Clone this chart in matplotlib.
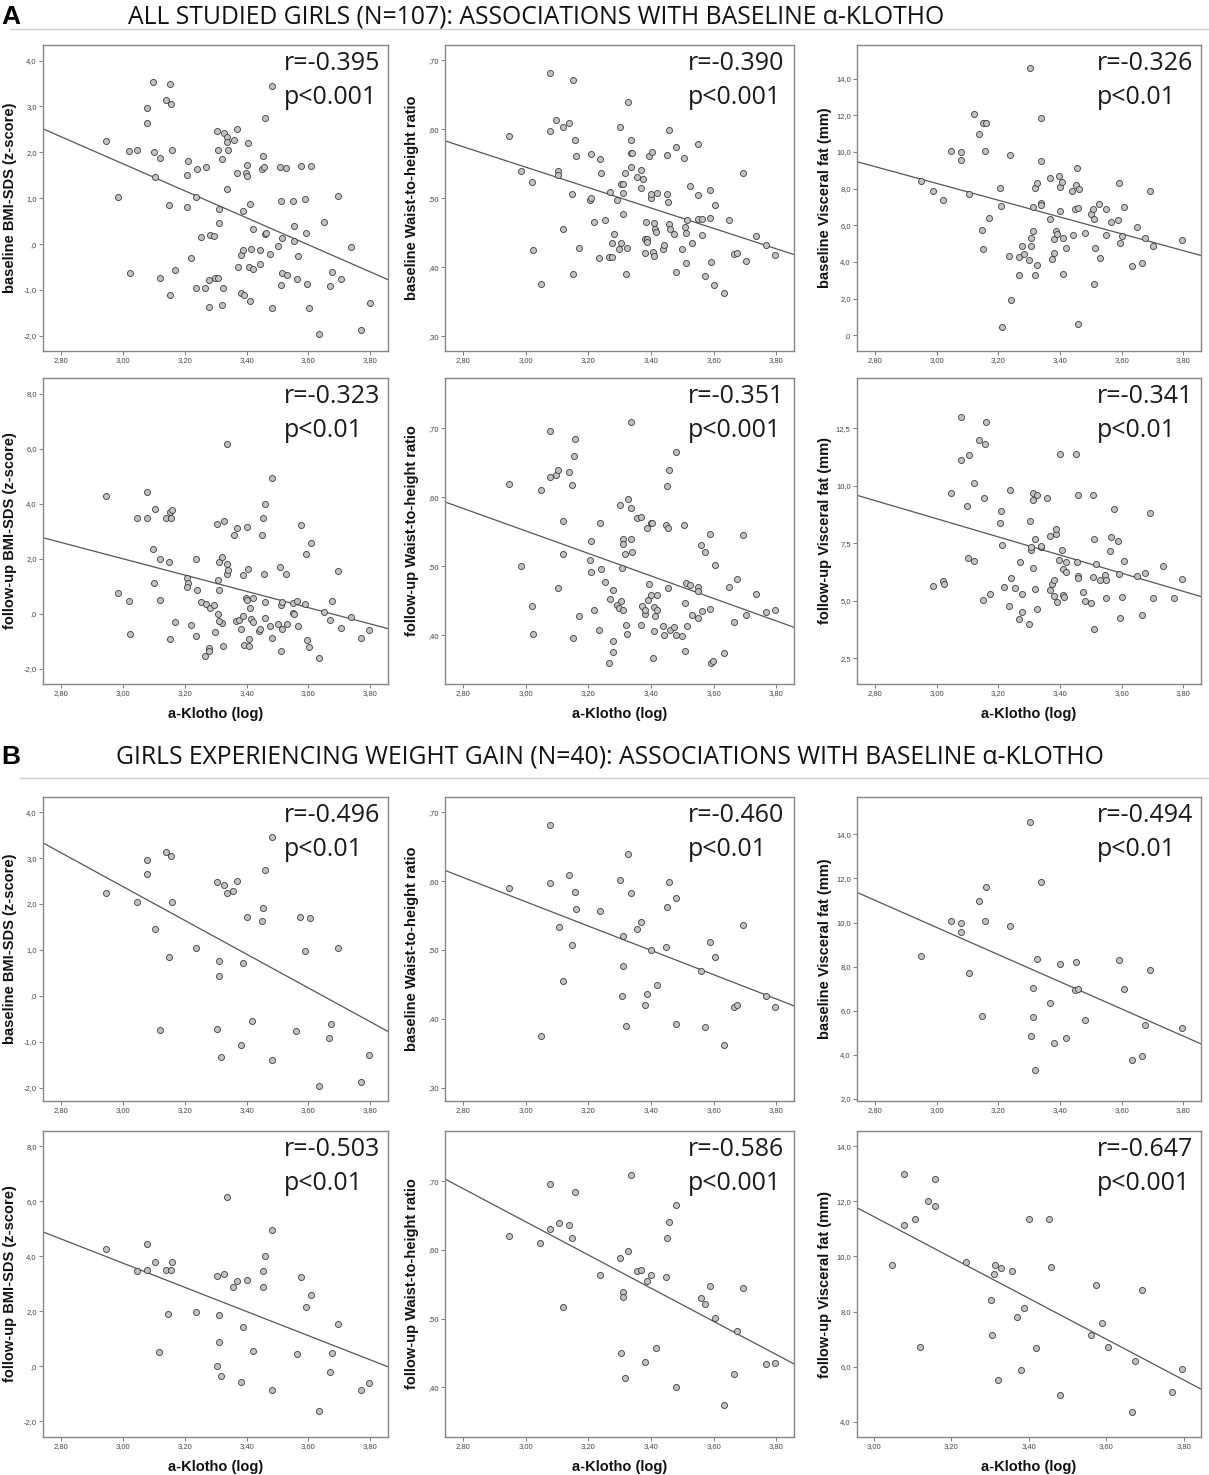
import numpy as np
import matplotlib
matplotlib.use("Agg")
import matplotlib.pyplot as plt
from matplotlib.lines import Line2D

# ---- data: (log a-Klotho, outcome) pairs per panel ----
a_bmi_base = [(2.946, 2.25), (2.986, 1.03), (3.021, 2.04), (3.047, 2.06), (3.023, -0.64), (3.078, 2.97),
              (3.078, 2.65), (3.098, 3.53), (3.101, 2.01), (3.105, 1.46), (3.120, 1.88), (3.119, -0.73),
              (3.139, 3.14), (3.153, 3.50), (3.157, 3.05), (3.159, 2.05), (3.148, 0.85), (3.152, -1.11),
              (3.170, -0.56), (3.206, 1.50), (3.210, 1.82), (3.209, 0.81), (3.220, -0.31), (3.235, -0.96),
              (3.238, 1.03), (3.239, 1.64), (3.253, 0.15), (3.268, 1.68), (3.267, -0.96), (3.278, -0.78),
              (3.278, -1.37), (3.283, 0.20), (3.294, 0.17), (3.298, -0.73), (3.307, -0.73), (3.305, 2.47),
              (3.307, 2.05), (3.311, 0.76), (3.311, 0.45), (3.319, 1.85), (3.320, -1.33), (3.323, -0.96),
              (3.327, 2.43), (3.337, 2.33), (3.338, 2.23), (3.338, 1.21), (3.340, 2.05), (3.359, 2.28),
              (3.370, 2.50), (3.369, 1.54), (3.373, -0.49), (3.382, -0.24), (3.387, -0.13), (3.383, -1.06),
              (3.391, -1.11), (3.389, 0.73), (3.398, 1.56), (3.400, 1.48), (3.402, 1.72), (3.405, 2.20),
              (3.407, -0.49), (3.412, 0.87), (3.414, -0.10), (3.411, -1.24), (3.420, -0.55), (3.421, 0.33),
              (3.442, -0.13), (3.444, -0.44), (3.453, 1.93), (3.450, 1.63), (3.456, 1.67), (3.459, 0.23),
              (3.462, 0.25), (3.460, 2.74), (3.476, -0.22), (3.482, -1.39), (3.483, 3.45), (3.502, -0.04),
              (3.509, 1.68), (3.510, 0.95), (3.513, 0.14), (3.512, -0.89), (3.516, -0.63), (3.527, 1.65),
              (3.532, -0.68), (3.550, 0.94), (3.552, 0.39), (3.554, 0.07), (3.563, -0.77), (3.566, -0.25),
              (3.577, 1.71), (3.590, 0.98), (3.591, 0.24), (3.595, -0.88), (3.603, -1.40), (3.608, 1.70),
              (3.635, -1.97), (3.649, 0.49), (3.668, -0.91), (3.676, -0.61), (3.696, 1.05), (3.705, -0.76),
              (3.736, -0.06), (3.771, -1.88), (3.798, -1.29)]

a_whtr_base = [(2.947, 0.590), (2.986, 0.540), (3.021, 0.524), (3.023, 0.425), (3.048, 0.376), (3.079, 0.682),
               (3.079, 0.598), (3.097, 0.613), (3.103, 0.539), (3.104, 0.534), (3.119, 0.455), (3.120, 0.603),
               (3.139, 0.609), (3.148, 0.507), (3.152, 0.672), (3.151, 0.390), (3.157, 0.584), (3.160, 0.561),
               (3.170, 0.428), (3.204, 0.498), (3.209, 0.501), (3.210, 0.564), (3.219, 0.466), (3.234, 0.413),
               (3.237, 0.557), (3.239, 0.536), (3.252, 0.469), (3.266, 0.415), (3.268, 0.509), (3.276, 0.415),
               (3.277, 0.435), (3.282, 0.448), (3.293, 0.497), (3.297, 0.427), (3.302, 0.603), (3.305, 0.435),
               (3.305, 0.521), (3.311, 0.521), (3.311, 0.508), (3.312, 0.478), (3.318, 0.536), (3.319, 0.390),
               (3.323, 0.428), (3.327, 0.640), (3.336, 0.584), (3.336, 0.546), (3.337, 0.565), (3.339, 0.565),
               (3.356, 0.531), (3.368, 0.515), (3.369, 0.541), (3.373, 0.528), (3.380, 0.421), (3.382, 0.441),
               (3.385, 0.466), (3.388, 0.441), (3.387, 0.437), (3.394, 0.561), (3.400, 0.501), (3.400, 0.506),
               (3.403, 0.567), (3.406, 0.422), (3.409, 0.417), (3.411, 0.465), (3.413, 0.455), (3.417, 0.451),
               (3.420, 0.508), (3.440, 0.427), (3.443, 0.433), (3.450, 0.563), (3.450, 0.506), (3.453, 0.495),
               (3.457, 0.599), (3.457, 0.463), (3.460, 0.455), (3.473, 0.449), (3.480, 0.394), (3.481, 0.575),
               (3.500, 0.427), (3.506, 0.558), (3.509, 0.458), (3.511, 0.450), (3.511, 0.407), (3.515, 0.469),
               (3.526, 0.518), (3.530, 0.435), (3.549, 0.578), (3.550, 0.505), (3.551, 0.470), (3.562, 0.470),
               (3.564, 0.447), (3.573, 0.388), (3.588, 0.512), (3.589, 0.471), (3.593, 0.408), (3.600, 0.374),
               (3.606, 0.490), (3.632, 0.363), (3.648, 0.469), (3.666, 0.419), (3.676, 0.421), (3.694, 0.536),
               (3.703, 0.410), (3.734, 0.445), (3.768, 0.433), (3.796, 0.418)]

a_vfat_base = [(2.949, 8.44), (2.987, 7.89), (3.022, 7.38), (3.048, 10.07), (3.079, 10.00), (3.079, 9.56),
               (3.106, 7.71), (3.121, 12.09), (3.139, 10.96), (3.148, 5.75), (3.152, 4.69), (3.152, 11.56),
               (3.161, 11.60), (3.158, 10.05), (3.171, 6.40), (3.206, 8.02), (3.209, 7.07), (3.211, 0.44),
               (3.234, 4.31), (3.238, 9.85), (3.240, 1.91), (3.267, 3.31), (3.268, 4.25), (3.277, 4.87),
               (3.284, 4.44), (3.299, 4.11), (3.304, 14.58), (3.306, 4.85), (3.307, 5.33), (3.311, 7.02),
               (3.313, 5.69), (3.318, 8.05), (3.319, 3.27), (3.325, 3.82), (3.327, 8.33), (3.337, 11.84),
               (3.338, 9.53), (3.338, 7.20), (3.337, 7.11), (3.368, 8.56), (3.369, 6.33), (3.373, 4.15),
               (3.382, 4.51), (3.381, 5.27), (3.386, 5.67), (3.391, 5.53), (3.396, 8.69), (3.400, 6.80),
               (3.401, 8.11), (3.405, 8.36), (3.409, 3.35), (3.411, 5.31), (3.419, 4.76), (3.439, 7.89),
               (3.443, 5.49), (3.449, 6.91), (3.452, 8.22), (3.455, 9.11), (3.457, 6.96), (3.458, 0.62),
               (3.462, 8.00), (3.481, 5.58), (3.500, 6.64), (3.508, 6.89), (3.511, 6.35), (3.511, 2.78),
               (3.515, 4.75), (3.525, 7.15), (3.531, 4.22), (3.548, 6.87), (3.550, 5.45), (3.564, 6.16),
               (3.589, 6.27), (3.590, 8.31), (3.593, 5.05), (3.600, 5.44), (3.606, 6.98), (3.632, 3.76),
               (3.649, 5.89), (3.666, 3.95), (3.675, 5.33), (3.693, 7.85), (3.703, 4.89), (3.796, 5.18)]

a_bmi_follow = [(2.946, 4.29), (2.986, 0.76), (3.021, 0.46), (3.023, -0.74), (3.047, 3.48), (3.078, 4.45),
                (3.078, 3.50), (3.098, 2.36), (3.101, 1.14), (3.105, 3.81), (3.120, 2.00), (3.119, 0.51),
                (3.139, 3.49), (3.153, 3.71), (3.157, 3.50), (3.159, 3.79), (3.148, 1.89), (3.152, -0.93),
                (3.170, -0.28), (3.206, 1.32), (3.210, 1.12), (3.209, 0.96), (3.220, -0.41), (3.235, -0.79),
                (3.238, 2.00), (3.239, 0.87), (3.253, 0.45), (3.268, 0.35), (3.267, -1.53), (3.278, -1.25),
                (3.278, -1.35), (3.283, 0.23), (3.294, 0.34), (3.298, -0.65), (3.307, 0.01), (3.305, 3.28),
                (3.311, 1.87), (3.311, 0.88), (3.306, 1.22), (3.319, 2.07), (3.323, -1.18), (3.320, -0.33),
                (3.310, -0.25), (3.327, 3.38), (3.337, 1.82), (3.338, 1.44), (3.340, 1.58), (3.337, 6.18),
                (3.358, 2.87), (3.369, 3.13), (3.367, -0.27), (3.374, -0.22), (3.382, -0.56), (3.387, -0.06),
                (3.389, 1.42), (3.390, -1.13), (3.397, 0.57), (3.402, 3.16), (3.401, 0.50), (3.405, 1.65),
                (3.407, -0.91), (3.409, -1.16), (3.411, 0.23), (3.414, -0.18), (3.420, 0.58), (3.421, -0.29),
                (3.440, -0.61), (3.444, -0.55), (3.450, 2.88), (3.453, 3.48), (3.456, 1.44), (3.459, 4.01),
                (3.458, 0.44), (3.461, -0.15), (3.476, -0.44), (3.482, -0.86), (3.482, 4.96), (3.501, -0.38),
                (3.509, 1.70), (3.511, 0.34), (3.513, 0.44), (3.511, -1.35), (3.516, -0.55), (3.526, 1.44),
                (3.532, -0.36), (3.550, 0.04), (3.551, 0.40), (3.553, -0.01), (3.563, 0.46), (3.566, -0.45),
                (3.576, 3.25), (3.589, 0.36), (3.591, 2.17), (3.594, -0.95), (3.602, -1.21), (3.607, 2.59),
                (3.635, -1.61), (3.649, 0.07), (3.668, -0.22), (3.677, 0.48), (3.695, 1.55), (3.704, -0.53),
                (3.736, -0.12), (3.771, -0.86), (3.797, -0.59)]

a_whtr_follow = [(2.947, 0.619), (2.986, 0.500), (3.021, 0.442), (3.023, 0.402), (3.048, 0.610), (3.079, 0.696),
                 (3.079, 0.630), (3.097, 0.632), (3.102, 0.468), (3.104, 0.639), (3.119, 0.517), (3.120, 0.566),
                 (3.139, 0.636), (3.148, 0.618), (3.151, 0.396), (3.153, 0.660), (3.157, 0.684), (3.170, 0.428),
                 (3.205, 0.509), (3.209, 0.491), (3.210, 0.537), (3.219, 0.436), (3.234, 0.407), (3.237, 0.563),
                 (3.239, 0.496), (3.252, 0.477), (3.268, 0.452), (3.279, 0.465), (3.278, 0.391), (3.278, 0.375),
                 (3.267, 0.360), (3.291, 0.444), (3.297, 0.440), (3.302, 0.589), (3.305, 0.450), (3.307, 0.498),
                 (3.311, 0.539), (3.311, 0.532), (3.311, 0.436), (3.318, 0.517), (3.319, 0.414), (3.323, 0.401),
                 (3.328, 0.598), (3.336, 0.584), (3.336, 0.540), (3.339, 0.520), (3.336, 0.709), (3.356, 0.570),
                 (3.369, 0.571), (3.368, 0.414), (3.371, 0.442), (3.380, 0.431), (3.382, 0.437), (3.386, 0.556),
                 (3.389, 0.451), (3.395, 0.474), (3.400, 0.458), (3.401, 0.563), (3.403, 0.562), (3.406, 0.367),
                 (3.409, 0.406), (3.410, 0.441), (3.413, 0.427), (3.418, 0.458), (3.420, 0.437), (3.440, 0.413),
                 (3.443, 0.400), (3.449, 0.560), (3.451, 0.617), (3.453, 0.556), (3.456, 0.468), (3.459, 0.640),
                 (3.460, 0.408), (3.473, 0.412), (3.480, 0.666), (3.481, 0.400), (3.500, 0.398), (3.506, 0.559),
                 (3.509, 0.447), (3.510, 0.377), (3.511, 0.475), (3.515, 0.413), (3.526, 0.473), (3.530, 0.429),
                 (3.549, 0.470), (3.551, 0.464), (3.550, 0.425), (3.563, 0.435), (3.561, 0.530), (3.573, 0.521),
                 (3.588, 0.547), (3.588, 0.438), (3.591, 0.360), (3.599, 0.363), (3.606, 0.501), (3.632, 0.374),
                 (3.648, 0.470), (3.666, 0.419), (3.674, 0.482), (3.694, 0.545), (3.703, 0.429), (3.734, 0.460),
                 (3.768, 0.434), (3.796, 0.436)]

a_vfat_follow = [(2.987, 5.66), (3.022, 5.86), (3.024, 5.72), (3.048, 9.70), (3.079, 11.14), (3.079, 13.01),
                 (3.098, 9.12), (3.103, 6.88), (3.106, 11.34), (3.120, 6.72), (3.121, 10.12), (3.139, 12.01),
                 (3.151, 5.02), (3.153, 9.49), (3.158, 11.83), (3.160, 12.79), (3.172, 5.30), (3.206, 8.40),
                 (3.208, 8.92), (3.211, 7.41), (3.219, 5.59), (3.234, 4.76), (3.237, 9.80), (3.240, 6.01),
                 (3.254, 5.54), (3.267, 4.21), (3.269, 6.70), (3.277, 5.31), (3.278, 4.51), (3.298, 3.98),
                 (3.303, 8.46), (3.306, 7.20), (3.306, 7.36), (3.311, 6.44), (3.311, 9.70), (3.311, 9.38),
                 (3.318, 7.67), (3.319, 5.53), (3.325, 4.66), (3.327, 9.59), (3.338, 7.36), (3.337, 7.38),
                 (3.358, 9.49), (3.368, 7.82), (3.368, 5.49), (3.373, 5.72), (3.382, 5.89), (3.382, 5.22),
                 (3.386, 7.91), (3.388, 8.14), (3.391, 4.95), (3.396, 6.79), (3.401, 11.37), (3.405, 7.21),
                 (3.409, 5.27), (3.411, 6.38), (3.414, 5.15), (3.419, 6.70), (3.420, 6.25), (3.452, 11.38),
                 (3.454, 6.67), (3.457, 6.09), (3.458, 5.99), (3.459, 9.62), (3.475, 5.40), (3.481, 5.01),
                 (3.501, 4.89), (3.507, 9.62), (3.508, 6.05), (3.511, 7.70), (3.511, 3.76), (3.516, 6.59),
                 (3.530, 5.91), (3.547, 6.11), (3.548, 5.91), (3.550, 5.14), (3.561, 7.18), (3.564, 7.78),
                 (3.574, 8.99), (3.589, 7.62), (3.590, 6.15), (3.593, 4.24), (3.600, 5.15), (3.606, 6.73),
                 (3.649, 6.08), (3.666, 4.36), (3.675, 6.20), (3.693, 8.80), (3.703, 5.12), (3.735, 6.52),
                 (3.769, 5.10), (3.796, 5.93)]

b_bmi_base = [(2.947, 2.25), (3.046, 2.05), (3.078, 2.96), (3.078, 2.66), (3.104, 1.45), (3.119, -0.74),
              (3.139, 3.14), (3.157, 3.04), (3.159, 2.05), (3.148, 0.85), (3.238, 1.04), (3.304, 2.47),
              (3.327, 2.42), (3.337, 2.23), (3.357, 2.28), (3.369, 2.50), (3.310, 0.76), (3.310, 0.44),
              (3.305, -0.73), (3.317, -1.33), (3.388, 0.72), (3.400, 1.71), (3.381, -1.07), (3.419, -0.55),
              (3.453, 1.92), (3.450, 1.62), (3.460, 2.74), (3.482, 3.46), (3.482, -1.39), (3.561, -0.77),
              (3.574, 1.71), (3.589, 0.98), (3.606, 1.69), (3.633, -1.97), (3.666, -0.91), (3.674, -0.61),
              (3.695, 1.05), (3.769, -1.88), (3.796, -1.28)]

b_whtr_base = [(2.948, 0.590), (3.048, 0.375), (3.079, 0.682), (3.079, 0.597), (3.105, 0.534), (3.119, 0.455),
               (3.139, 0.609), (3.148, 0.508), (3.157, 0.584), (3.160, 0.560), (3.237, 0.557), (3.302, 0.602),
               (3.306, 0.434), (3.311, 0.521), (3.312, 0.477), (3.319, 0.390), (3.327, 0.640), (3.336, 0.583),
               (3.356, 0.531), (3.368, 0.541), (3.381, 0.420), (3.387, 0.436), (3.400, 0.500), (3.418, 0.450),
               (3.449, 0.505), (3.450, 0.563), (3.457, 0.599), (3.481, 0.575), (3.480, 0.393), (3.561, 0.470),
               (3.573, 0.388), (3.588, 0.511), (3.605, 0.490), (3.632, 0.362), (3.666, 0.418), (3.674, 0.420),
               (3.694, 0.536), (3.768, 0.433), (3.796, 0.417)]

b_vfat_base = [(2.949, 8.47), (3.048, 10.09), (3.079, 9.99), (3.079, 9.56), (3.106, 7.73), (3.139, 10.98),
               (3.148, 5.78), (3.158, 10.07), (3.161, 11.60), (3.238, 9.86), (3.303, 14.57), (3.306, 4.87),
               (3.312, 7.02), (3.312, 5.72), (3.319, 3.30), (3.327, 8.33), (3.337, 11.84), (3.369, 6.34),
               (3.382, 4.52), (3.401, 8.12), (3.419, 4.78), (3.449, 6.93), (3.452, 8.23), (3.458, 6.99),
               (3.481, 5.58), (3.590, 8.32), (3.606, 7.00), (3.632, 3.77), (3.666, 3.97), (3.675, 5.34),
               (3.693, 7.85), (3.796, 5.20)]

b_bmi_follow = [(2.946, 4.27), (3.045, 3.45), (3.077, 4.44), (3.077, 3.49), (3.103, 3.78), (3.118, 0.50),
                (3.138, 3.48), (3.157, 3.49), (3.158, 3.78), (3.147, 1.88), (3.237, 1.98), (3.303, 3.27),
                (3.326, 3.35), (3.310, 1.85), (3.310, 0.87), (3.305, -0.01), (3.317, -0.35), (3.336, 6.16),
                (3.357, 2.86), (3.369, 3.10), (3.388, 1.41), (3.401, 3.14), (3.381, -0.58), (3.420, 0.56),
                (3.452, 2.87), (3.454, 3.45), (3.460, 3.99), (3.483, 4.95), (3.483, -0.88), (3.563, 0.44),
                (3.576, 3.24), (3.591, 2.15), (3.608, 2.58), (3.635, -1.64), (3.668, -0.23), (3.677, 0.47),
                (3.696, 1.54), (3.771, -0.86), (3.797, -0.62)]

b_whtr_follow = [(2.947, 0.620), (3.047, 0.610), (3.079, 0.696), (3.079, 0.630), (3.105, 0.639), (3.119, 0.517),
                 (3.139, 0.636), (3.148, 0.618), (3.156, 0.684), (3.236, 0.563), (3.302, 0.589), (3.305, 0.450),
                 (3.311, 0.539), (3.311, 0.532), (3.318, 0.414), (3.327, 0.598), (3.336, 0.709), (3.356, 0.570),
                 (3.369, 0.571), (3.380, 0.437), (3.386, 0.555), (3.400, 0.563), (3.417, 0.458), (3.449, 0.560),
                 (3.451, 0.617), (3.459, 0.640), (3.480, 0.666), (3.480, 0.400), (3.561, 0.530), (3.573, 0.521),
                 (3.588, 0.547), (3.606, 0.501), (3.632, 0.374), (3.666, 0.420), (3.674, 0.482), (3.694, 0.545),
                 (3.768, 0.434), (3.796, 0.436)]

b_vfat_follow = [(3.048, 9.70), (3.079, 13.01), (3.079, 11.14), (3.106, 11.35), (3.120, 6.71), (3.140, 12.00),
                 (3.159, 11.82), (3.159, 12.80), (3.238, 9.79), (3.303, 8.42), (3.306, 7.15), (3.311, 9.38),
                 (3.312, 9.70), (3.320, 5.50), (3.328, 9.57), (3.357, 9.47), (3.369, 7.80), (3.381, 5.86),
                 (3.388, 8.13), (3.401, 11.35), (3.419, 6.68), (3.452, 11.37), (3.459, 9.62), (3.482, 4.98),
                 (3.561, 7.16), (3.574, 8.98), (3.589, 7.60), (3.606, 6.72), (3.666, 4.34), (3.674, 6.19),
                 (3.693, 8.78), (3.769, 5.08), (3.797, 5.92)]

r_values = ["r=-0.395", "r=-0.390", "r=-0.326", "r=-0.323", "r=-0.351", "r=-0.341",
            "r=-0.496", "r=-0.460", "r=-0.494", "r=-0.503", "r=-0.586", "r=-0.647"]
p_values = ["p<0.001", "p<0.001", "p<0.01", "p<0.01", "p<0.001", "p<0.01",
            "p<0.01", "p<0.01", "p<0.01", "p<0.01", "p<0.001", "p<0.001"]

title_a = "ALL STUDIED GIRLS (N=107): ASSOCIATIONS WITH BASELINE \u03b1-KLOTHO"
title_b = "GIRLS EXPERIENCING WEIGHT GAIN (N=40): ASSOCIATIONS WITH BASELINE \u03b1-KLOTHO"

ylab_bmi = ["baseline BMI-SDS (z-score)", "follow-up BMI-SDS (z-score)"]
ylab_whtr = ["baseline Waist-to-height ratio", "follow-up Waist-to-height ratio"]
ylab_vfat = ["baseline Visceral fat (mm)", "follow-up Visceral fat (mm)"]
xlab = "a-Klotho (log)"

# ---- layout (pixels) ----
W, H = 1209, 1475
cols = [(43, 388), (445, 794), (857, 1201)]
rows = [(45, 351), (378, 684), (797, 1101), (1131, 1437)]
XL = (2.742, 3.857)
xt = [2.8, 3.0, 3.2, 3.4, 3.6, 3.8]

panels = [
    # data, ylabel, ylim, yticks, decimals, xlim, xticks
    (a_bmi_base, ylab_bmi[0], (-2.33, 4.34), [-2, -1, 0, 1, 2, 3, 4], 1, XL, xt),
    (a_whtr_base, ylab_whtr[0], (0.279, 0.722), [0.3, 0.4, 0.5, 0.6, 0.7], 2, XL, xt),
    (a_vfat_base, ylab_vfat[0], (-0.86, 15.84), [0, 2, 4, 6, 8, 10, 12, 14], 1, XL, xt),
    (a_bmi_follow, ylab_bmi[1], (-2.55, 8.58), [-2, 0, 2, 4, 6, 8], 1, XL, xt),
    (a_whtr_follow, ylab_whtr[1], (0.329, 0.773), [0.4, 0.5, 0.6, 0.7], 2, XL, xt),
    (a_vfat_follow, ylab_vfat[1], (1.38, 14.69), [2.5, 5, 7.5, 10, 12.5], 1, XL, xt),
    (b_bmi_base, ylab_bmi[0], (-2.29, 4.33), [-2, -1, 0, 1, 2, 3, 4], 1, XL, xt),
    (b_whtr_base, ylab_whtr[0], (0.281, 0.722), [0.3, 0.4, 0.5, 0.6, 0.7], 2, XL, xt),
    (b_vfat_base, ylab_vfat[0], (1.91, 15.69), [2, 4, 6, 8, 10, 12, 14], 1, XL, xt),
    (b_bmi_follow, ylab_bmi[1], (-2.58, 8.55), [-2, 0, 2, 4, 6, 8], 1, XL, xt),
    (b_whtr_follow, ylab_whtr[1], (0.328, 0.773), [0.4, 0.5, 0.6, 0.7], 2, XL, xt),
    (b_vfat_follow, ylab_vfat[1], (3.44, 14.56), [4, 6, 8, 10, 12, 14], 1, (2.957, 3.845), [3.0, 3.2, 3.4, 3.6, 3.8]),
]


def spss(v, dec):
    s = f"{v:.{dec}f}"
    if s.startswith("0."):
        s = s[1:]
    elif s.startswith("-0."):
        s = "-" + s[2:]
    return s.replace(".", ",")


fig = plt.figure(figsize=(W / 100, H / 100), dpi=100)

TICK_FONT = dict(family="Liberation Sans", size=5.5, color="#444444")
LAB_FONT = dict(family="Liberation Sans", size=10.5, weight="bold", color="#111111")
STAT_FONT = dict(family="Open Sans", size=18, color="#1a1a1a")

for i, (pts, ylab, ylim, yt, dec, xlim, xticks) in enumerate(panels):
    c = cols[i % 3]
    r = rows[i // 3]
    ax = fig.add_axes([c[0] / W, 1 - r[1] / H, (c[1] - c[0]) / W, (r[1] - r[0]) / H])
    x, y = np.array(pts).T

    slope, icpt = np.polyfit(x, y, 1)
    xx = np.array(xlim)
    ax.plot(xx, slope * xx + icpt, color="#555555", lw=0.9, zorder=2)
    ax.scatter(x, y, s=19, facecolor="#c3c3c3", edgecolor="#3c3c3c", linewidth=0.6, zorder=3)

    ax.set_xlim(xlim)
    ax.set_ylim(ylim)
    ax.set_xticks(xticks)
    ax.set_xticklabels([spss(v, 2) for v in xticks], fontdict=TICK_FONT)
    ax.set_yticks(yt)
    ax.set_yticklabels([spss(v, dec) for v in yt], fontdict=TICK_FONT)
    ax.tick_params(length=3, width=0.6, color="#666666", pad=1.5)
    for sp in ax.spines.values():
        sp.set_color("#858585")
        sp.set_linewidth(1.0)

    ax.set_ylabel(ylab, **LAB_FONT)
    ax.yaxis.set_label_coords(-0.074, 0.5)
    if (i // 3) % 2 == 1:
        ax.set_xlabel(xlab, **LAB_FONT)
        ax.xaxis.set_label_coords(0.5, -0.075)

    ax.text(0.697, 0.938, r_values[i], transform=ax.transAxes, ha="left", va="center", **STAT_FONT)
    ax.text(0.697, 0.827, p_values[i], transform=ax.transAxes, ha="left", va="center", **STAT_FONT)

# ---- section headers ----
for letter, title, xt0, yc, yline, x0 in [("A", title_a, 128, 17, 29, 10), ("B", title_b, 116, 757, 778, 20)]:
    fig.text(1 / W, 1 - yc / H, letter, family="Liberation Sans", weight="bold", size=19,
             ha="left", va="center", color="#000000")
    fig.text(xt0 / W, 1 - yc / H, title, family="Open Sans", size=17.8, ha="left", va="center",
             color="#111111")
    fig.add_artist(Line2D([x0 / W, 1.0], [1 - yline / H] * 2, color="#cfcfcf", lw=1.0))

fig.savefig("out.png", dpi=100)
